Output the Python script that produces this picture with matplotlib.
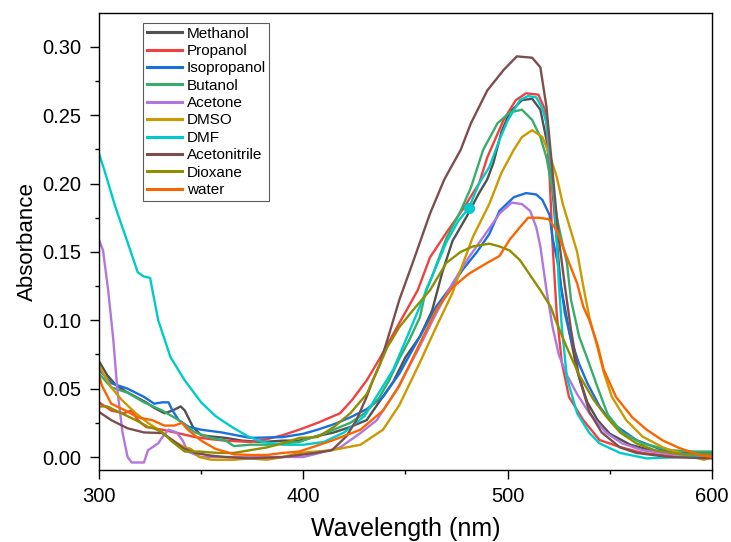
import matplotlib
matplotlib.use("Agg")
import matplotlib.pyplot as plt
from matplotlib.ticker import MultipleLocator

plt.rcParams['font.family'] = ['Liberation Sans', 'DejaVu Sans']

# ---- data (wavelength nm, absorbance) ----
wl_methanol = [300, 304, 308, 313, 318, 323, 327, 332, 336, 340, 342, 346, 350, 355, 362, 370, 380, 390, 398, 406, 415, 423, 431, 437, 444, 450, 457, 463, 468, 473, 480, 486, 490, 493, 497, 501, 507, 512, 516, 519, 522, 524, 526, 530, 534, 539, 544, 550, 560, 570, 580, 590, 600]
ab_methanol = [0.070, 0.060, 0.053, 0.048, 0.044, 0.040, 0.036, 0.032, 0.034, 0.037, 0.034, 0.022, 0.016, 0.015, 0.014, 0.012, 0.011, 0.012, 0.012, 0.015, 0.018, 0.022, 0.027, 0.040, 0.055, 0.073, 0.088, 0.107, 0.135, 0.158, 0.176, 0.193, 0.203, 0.215, 0.238, 0.252, 0.261, 0.262, 0.254, 0.232, 0.195, 0.159, 0.125, 0.093, 0.063, 0.040, 0.027, 0.017, 0.009, 0.005, 0.003, 0.003, 0.003]

wl_propanol = [300, 306, 312, 316, 319, 323, 331, 340, 347, 355, 362, 374, 382, 390, 398, 407, 418, 424, 431, 437, 447, 456, 462, 470, 478, 486, 490, 498, 504, 509, 515, 518, 519, 520.5, 522, 524, 526.5, 530, 537, 545, 555, 566, 584, 600]
ab_propanol = [0.040, 0.034, 0.032, 0.034, 0.027, 0.022, 0.020, 0.017, 0.0146, 0.013, 0.012, 0.011, 0.013, 0.016, 0.020, 0.025, 0.032, 0.042, 0.056, 0.071, 0.098, 0.122, 0.146, 0.164, 0.181, 0.200, 0.219, 0.2465, 0.261, 0.266, 0.265, 0.255, 0.244, 0.206, 0.155, 0.105, 0.069, 0.044, 0.027, 0.0124, 0.0073, 0.003, 0.0, 0.0]

wl_isopropanol = [300, 306, 314, 322, 327, 331, 334, 336, 339, 344, 350, 360, 374, 390, 400, 407, 415, 423, 431, 439, 447, 457, 465, 472, 478, 485, 491, 496, 503, 509, 514, 517, 520.5, 522, 524.5, 528, 531, 535, 539, 545, 551, 563, 576, 592, 600]
ab_isopropanol = [0.064, 0.054, 0.050, 0.044, 0.039, 0.040, 0.040, 0.034, 0.027, 0.022, 0.020, 0.018, 0.014, 0.0146, 0.017, 0.020, 0.024, 0.029, 0.035, 0.044, 0.061, 0.088, 0.110, 0.124, 0.137, 0.150, 0.163, 0.180, 0.190, 0.193, 0.192, 0.188, 0.177, 0.160, 0.142, 0.105, 0.086, 0.068, 0.054, 0.037, 0.025, 0.0124, 0.005, 0.003, 0.003]

wl_butanol = [300, 306, 314, 322, 331, 339, 347, 355, 362, 366, 374, 382, 398, 411, 423, 430, 437, 442, 447, 452, 457, 460, 463, 467, 470, 477, 482, 488, 495, 501, 507, 512, 516, 519, 522, 524.5, 527, 529, 531, 535, 539, 544, 549, 556, 566, 579, 592, 600]
ab_butanol = [0.061, 0.051, 0.047, 0.040, 0.034, 0.027, 0.018, 0.014, 0.012, 0.008, 0.009, 0.009, 0.011, 0.0176, 0.025, 0.032, 0.043, 0.056, 0.072, 0.086, 0.102, 0.122, 0.132, 0.148, 0.160, 0.180, 0.197, 0.2246, 0.244, 0.252, 0.254, 0.2465, 0.234, 0.219, 0.195, 0.172, 0.155, 0.142, 0.115, 0.088, 0.072, 0.051, 0.031, 0.018, 0.010, 0.005, 0.004, 0.004]

wl_acetone = [300, 302, 304.5, 307, 309, 311.5, 314, 316, 322, 324, 329, 331, 334, 338, 341, 343.5, 350, 360, 374, 390, 400, 408, 418, 428, 436, 446, 456, 465, 473, 481, 490, 496, 502, 507, 511, 514, 516, 519, 522, 525, 529, 534, 540, 548, 556, 566, 580, 600]
ab_acetone = [0.159, 0.151, 0.122, 0.086, 0.049, 0.018, 0.0, -0.004, -0.004, 0.005, 0.010, 0.0146, 0.020, 0.018, 0.012, 0.004, 0.0, 0.0, 0.0, 0.0, 0.0, 0.003, 0.007, 0.0176, 0.027, 0.050, 0.078, 0.105, 0.127, 0.146, 0.165, 0.178, 0.186, 0.185, 0.180, 0.168, 0.154, 0.122, 0.095, 0.075, 0.060, 0.046, 0.032, 0.018, 0.010, 0.005, 0.002, 0.001]

wl_dmso = [300, 306, 311, 318, 324, 329, 336, 342, 345, 349, 355, 366, 374, 382, 390, 398, 414, 428, 439, 447, 457, 465, 473, 477, 483, 491, 497, 503, 507, 512, 517, 521, 524, 527, 530, 534, 537, 540, 544, 547, 551, 558, 566, 576, 588, 596, 600]
ab_dmso = [0.067, 0.051, 0.042, 0.032, 0.025, 0.020, 0.012, 0.007, 0.006, 0.0, -0.002, -0.002, -0.001, -0.002, 0.0, 0.003, 0.005, 0.009, 0.020, 0.038, 0.069, 0.095, 0.120, 0.137, 0.161, 0.185, 0.208, 0.2246, 0.234, 0.239, 0.234, 0.219, 0.205, 0.185, 0.170, 0.150, 0.125, 0.102, 0.080, 0.062, 0.044, 0.027, 0.015, 0.007, 0.001, -0.002, 0.0]

wl_dmf = [300, 303, 308, 314, 319, 322, 325, 329, 335, 342, 350, 357, 365, 373, 380, 390, 400, 410, 420, 430, 437, 444, 450, 457, 463, 470, 476, 481, 486, 491, 496, 500, 506, 510, 514, 517, 519, 521, 522, 524, 525, 526.5, 529, 534, 540, 545, 555, 568, 584, 600]
ab_dmf = [0.222, 0.208, 0.183, 0.157, 0.135, 0.132, 0.131, 0.100, 0.073, 0.056, 0.040, 0.030, 0.022, 0.015, 0.011, 0.009, 0.009, 0.011, 0.018, 0.030, 0.047, 0.064, 0.085, 0.110, 0.132, 0.157, 0.173, 0.182, 0.200, 0.212, 0.232, 0.246, 0.261, 0.264, 0.263, 0.255, 0.244, 0.215, 0.205, 0.160, 0.128, 0.095, 0.058, 0.032, 0.0176, 0.010, 0.003, -0.001, 0.0, 0.0015]

wl_acetonitrile = [300, 306, 314, 322, 331, 336, 341, 347, 355, 362, 374, 390, 398, 406, 414, 421, 426, 431, 434, 437.5, 442, 447, 454, 462, 469, 477, 482, 490, 498, 504.5, 512, 516, 519, 522, 525, 528, 531, 535, 540, 546, 555, 563, 579, 600]
ab_acetonitrile = [0.033, 0.027, 0.021, 0.018, 0.0175, 0.0124, 0.0066, 0.003, 0.001, 0.0, -0.001, 0.0, 0.0015, 0.003, 0.005, 0.015, 0.027, 0.044, 0.056, 0.068, 0.090, 0.115, 0.144, 0.178, 0.203, 0.2246, 0.244, 0.268, 0.283, 0.293, 0.292, 0.285, 0.256, 0.208, 0.160, 0.125, 0.093, 0.058, 0.033, 0.018, 0.007, 0.003, 0.0, -0.001]

wl_dioxane = [300, 304, 311, 318, 324, 327, 331, 336, 342, 349, 358, 366, 374, 382, 390, 398, 407, 415, 423, 431, 437, 441, 447, 454, 462, 470, 477, 483, 491, 496, 501, 506, 511, 516, 521, 524, 529, 535, 542, 548, 555, 563, 572, 585, 600]
ab_dioxane = [0.037, 0.037, 0.032, 0.027, 0.022, 0.021, 0.018, 0.011, 0.004, 0.004, 0.003, 0.003, 0.005, 0.007, 0.010, 0.014, 0.0146, 0.022, 0.032, 0.046, 0.066, 0.080, 0.095, 0.108, 0.122, 0.142, 0.150, 0.154, 0.156, 0.154, 0.151, 0.144, 0.133, 0.122, 0.110, 0.098, 0.080, 0.060, 0.042, 0.030, 0.018, 0.010, 0.005, 0.002, 0.002]

wl_water = [300, 301.5, 306, 313, 319, 326, 332, 337, 340.5, 343.5, 350, 357, 366, 374, 382, 390, 398, 406, 414, 421, 428, 439, 447, 457, 465, 473, 481, 490, 496, 501, 506, 510, 515, 520, 524, 529, 534, 537, 540, 544, 547, 553, 561, 568, 576, 584, 594, 600]
ab_water = [0.060, 0.052, 0.039, 0.034, 0.029, 0.027, 0.023, 0.023, 0.025, 0.020, 0.012, 0.006, 0.002, 0.0015, 0.0015, 0.003, 0.004, 0.008, 0.012, 0.016, 0.020, 0.034, 0.052, 0.083, 0.1075, 0.124, 0.134, 0.142, 0.147, 0.159, 0.168, 0.175, 0.175, 0.174, 0.166, 0.146, 0.127, 0.110, 0.100, 0.082, 0.064, 0.044, 0.029, 0.020, 0.012, 0.0066, 0.0015, 0.0]

labels = ["Methanol", "Propanol", "Isopropanol", "Butanol", "Acetone",
          "DMSO", "DMF", "Acetonitrile", "Dioxane", "water"]
colors = ["#515151", "#F14040", "#1A6FDF", "#37AD6B", "#B177DE",
          "#CC9900", "#00CBCC", "#7D4E4E", "#8E8E00", "#FB6501"]
series = [(wl_methanol, ab_methanol), (wl_propanol, ab_propanol),
          (wl_isopropanol, ab_isopropanol), (wl_butanol, ab_butanol),
          (wl_acetone, ab_acetone), (wl_dmso, ab_dmso), (wl_dmf, ab_dmf),
          (wl_acetonitrile, ab_acetonitrile), (wl_dioxane, ab_dioxane),
          (wl_water, ab_water)]
dmf_marker_wl = 481

fig = plt.figure(figsize=(7.31, 5.42), dpi=100)
ax = fig.add_axes([0.1354, 0.1328, 0.8386, 0.8427])

for (x, y), lab, c in zip(series, labels, colors):
    ax.plot(x, y, color=c, lw=1.7, label=lab, solid_joinstyle='round')

# single marker on the DMF curve
idx = wl_dmf.index(dmf_marker_wl)
ax.plot([wl_dmf[idx]], [ab_dmf[idx]], 'o', color="#00CBCC", ms=7, zorder=5)

ax.set_xlim(300, 600)
ax.set_ylim(-0.0095, 0.3245)
ax.xaxis.set_major_locator(MultipleLocator(100))
ax.xaxis.set_minor_locator(MultipleLocator(50))
ax.yaxis.set_major_locator(MultipleLocator(0.05))
ax.yaxis.set_minor_locator(MultipleLocator(0.025))
ax.yaxis.set_major_formatter(matplotlib.ticker.FormatStrFormatter('%.2f'))
ax.tick_params(which='major', direction='out', length=6.5, width=1, labelsize=14.5,
               pad=6, top=False, right=False)
ax.tick_params(which='minor', direction='out', length=3, width=1,
               top=False, right=False)
for s in ax.spines.values():
    s.set_linewidth(1.0)

ax.set_xlabel("Wavelength (nm)", fontsize=18, labelpad=8)
ax.set_ylabel("Absorbance", fontsize=16, labelpad=3)

leg = ax.legend(loc='upper left', bbox_to_anchor=(0.0718, 0.979),
                borderaxespad=0, fontsize=11, frameon=True, fancybox=False,
                handlelength=2.3, handletextpad=0.3, labelspacing=0.22,
                borderpad=0.25, edgecolor='#333333')
leg.get_frame().set_linewidth(0.8)
for h in leg.get_lines():
    h.set_linewidth(2.2)

fig.savefig("out.png", dpi=100)
